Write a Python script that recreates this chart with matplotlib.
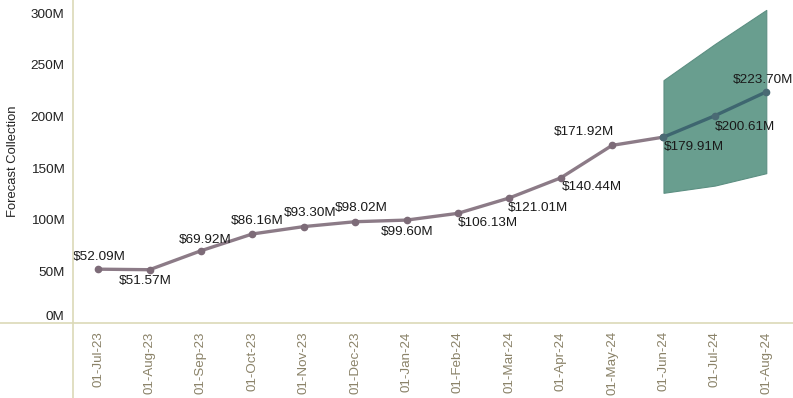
import numpy as np
import matplotlib
matplotlib.use("Agg")
import matplotlib.pyplot as plt
from matplotlib.lines import Line2D
import matplotlib.transforms as mtransforms

plt.rcParams['font.family'] = ['Liberation Sans', 'DejaVu Sans']

months = ['01-Jul-23', '01-Aug-23', '01-Sep-23', '01-Oct-23', '01-Nov-23', '01-Dec-23',
          '01-Jan-24', '01-Feb-24', '01-Mar-24', '01-Apr-24', '01-May-24', '01-Jun-24',
          '01-Jul-24', '01-Aug-24']
values = [52.09, 51.57, 69.92, 86.16, 93.30, 98.02, 99.60, 106.13, 121.01, 140.44,
          171.92, 179.91, 200.61, 223.70]  # millions
fc_start = 11  # forecast begins at Jun-24
band_upper = [235, 270, 303]
band_lower = [126, 133, 145]

# label offsets in pixels (dx, dy)
lab_off = [(1, 12), (-4, -11), (4, 11), (5, 13), (6, 14), (6, 14), (1, -12),
           (30, -10), (29, -10), (31, -9), (-28, 13), (30, -10), (30, -11), (-3, 12)]

x = np.arange(len(months))
v = np.array(values) * 1e6

fig = plt.figure(figsize=(7.93, 3.98), dpi=100)
ax = fig.add_axes([73/793, 75/398, 720/793, 323/398])

band_x = x[fc_start:]
ax.fill_between(band_x, np.array(band_lower)*1e6, np.array(band_upper)*1e6,
                color='#699e8f', edgecolor='#5c8f82', lw=0.8, zorder=1)

ax.plot(x[:fc_start+1], v[:fc_start+1], color='#8c7b87', lw=2.4, zorder=2,
        marker='o', ms=4.5, mfc='#7d6b78', mec='#7d6b78')
ax.plot(x[fc_start:], v[fc_start:], color='#3e6670', lw=2.4, zorder=3,
        marker='o', ms=4.5, mfc='#4a6a74', mec='#4a6a74')

for i, val in enumerate(values):
    dx, dy = lab_off[i]
    ax.annotate('$%.2fM' % val, (x[i], v[i]), xytext=(dx, dy), textcoords='offset pixels',
                ha='center', va='center', fontsize=9.7, color='#1a1a1a', zorder=4)

ax.set_xlim(-0.49, 13.52)
ax.set_ylim(0, 312.6e6)
ax.set_yticks(np.arange(0, 301e6, 50e6))
ax.set_yticklabels(['%dM' % t for t in range(0, 301, 50)])
ax.set_xticks(x)
ax.set_xticklabels(months, rotation=90, color='#8a8268', fontsize=9.6)
ax.tick_params(axis='y', length=0, pad=6, labelsize=9.7, labelcolor='#222222')
ax.tick_params(axis='x', length=0, pad=6)
for s in ax.spines.values():
    s.set_visible(False)

# lift the 0M label so it sits above the baseline
lab0 = ax.get_yticklabels()[0]
lab0.set_transform(lab0.get_transform() + mtransforms.ScaledTranslation(0, 8/100, fig.dpi_scale_trans))

ax.set_ylabel('Forecast Collection', fontsize=9.4, color='#222222')
ax.yaxis.set_label_coords((19 - 73)/720, 0.5)

# axis rules running across the whole figure
fig.add_artist(Line2D([0, 1], [75/398, 75/398], color='#dcd9b8', lw=1.2))
fig.add_artist(Line2D([73/793, 73/793], [0, 1], color='#dcd9b8', lw=1.2))

fig.savefig('out.png', dpi=100)
